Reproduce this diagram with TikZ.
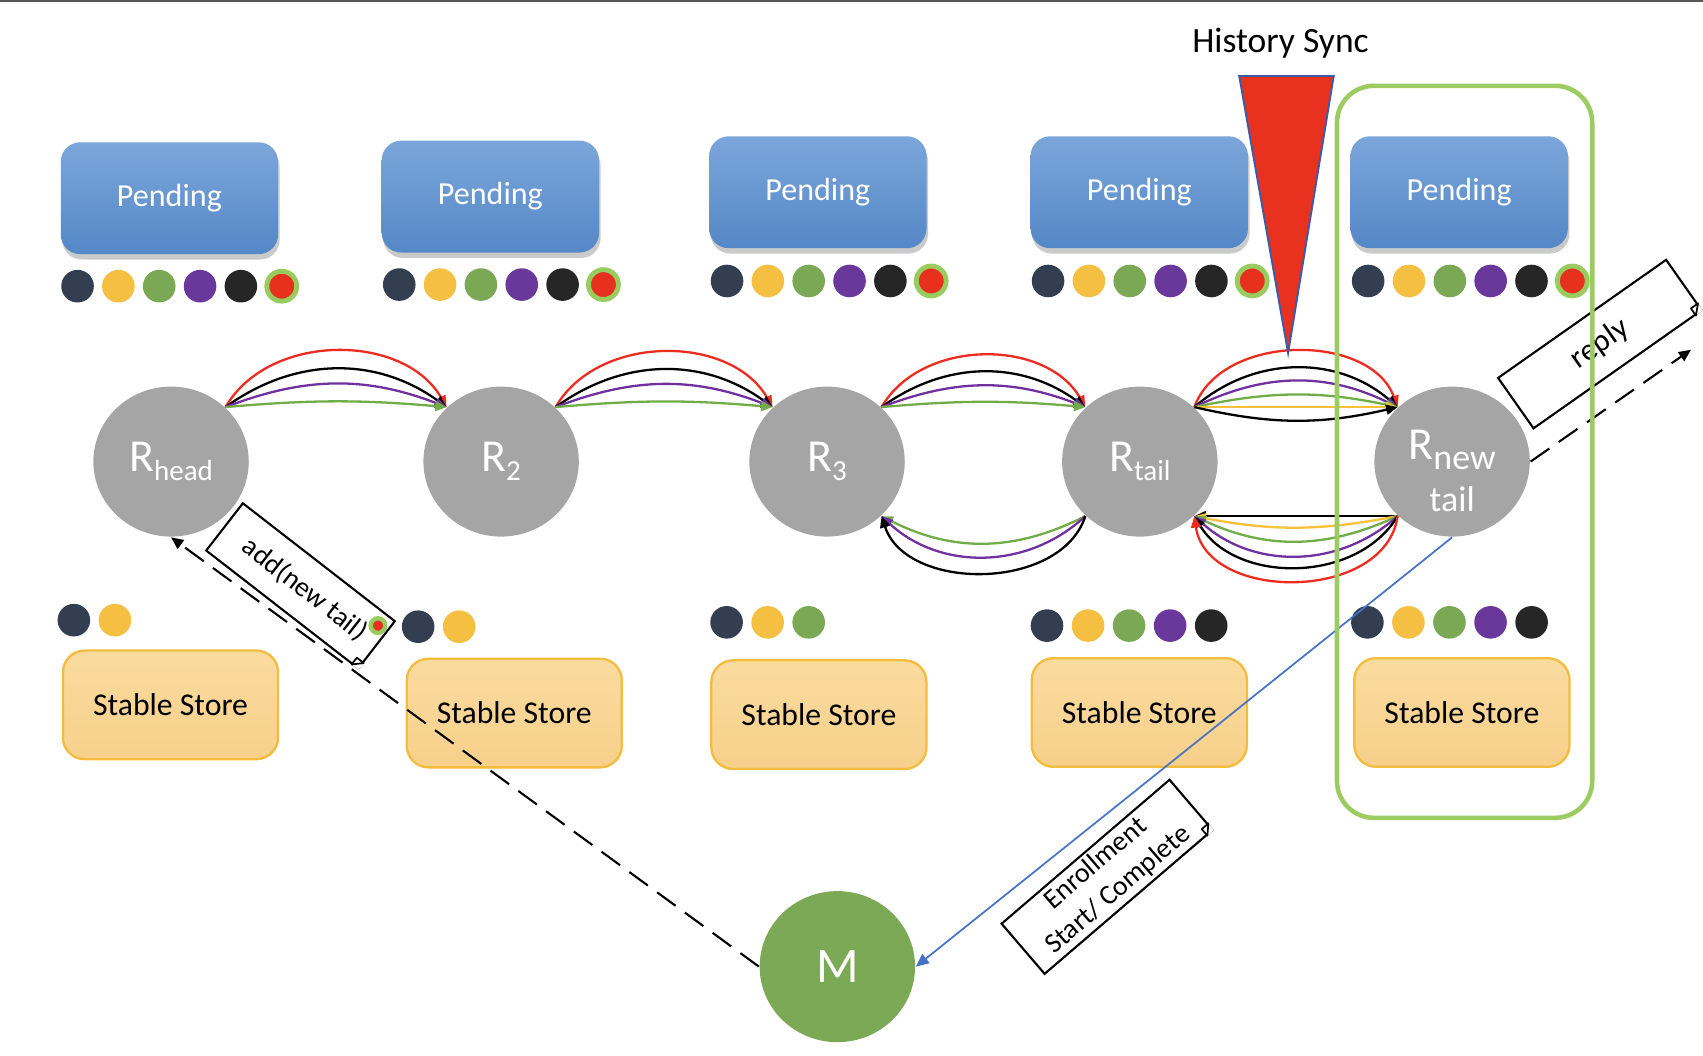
\documentclass[tikz,border=0pt]{standalone}
\usepackage{fontspec}
\setmainfont{Carlito}
\usepackage{tikz}
\usetikzlibrary{arrows.meta,positioning,shapes.geometric,shadows,calc}

\definecolor{pendtop}{HTML}{7BA6DA}
\definecolor{pendbot}{HTML}{5588C7}
\definecolor{storetop}{HTML}{FADB9F}
\definecolor{storebot}{HTML}{F7D08A}
\definecolor{storeline}{HTML}{F3BC3E}
\definecolor{rgray}{HTML}{A5A5A5}
\definecolor{mgreen}{HTML}{7CA955}
\definecolor{dkslate}{HTML}{333F50}
\definecolor{dyellow}{HTML}{F5BF42}
\definecolor{dgreen}{HTML}{7BA854}
\definecolor{dpurple}{HTML}{6A389B}
\definecolor{dblack}{HTML}{262626}
\definecolor{dred}{HTML}{E8301F}
\definecolor{ringgreen}{HTML}{98CC5E}
\definecolor{framegreen}{HTML}{9CCB62}
\definecolor{syncred}{HTML}{E8321F}
\definecolor{syncblue}{HTML}{3D5BA6}
\definecolor{enrollblue}{HTML}{4472C4}
\definecolor{ared}{HTML}{EE2B1F}
\definecolor{apurple}{HTML}{7030A0}
\definecolor{agreen}{HTML}{70AD47}
\definecolor{ayellow}{HTML}{F9C03A}

\newcommand{\Rsub}[1]{\raisebox{-2.4pt}{\fontsize{7.6}{9}\selectfont #1}}
\newcommand{\Rbig}[1]{\raisebox{-2.6pt}{\fontsize{9.4}{10}\selectfont #1}}
\newcommand{\notefold}[1]{%
  \coordinate (#1fa) at ($(#1.south east)!0.08cm!(#1.north east)$);
  \coordinate (#1fb) at ($(#1.south east)!0.08cm!(#1.south west)$);
  \fill[white] (#1fa) -- (#1.south east) -- (#1fb) -- cycle;
  \draw[line width=0.45pt,fill=white,line join=round] (#1fa) -- ($(#1fa)+(#1fb)-(#1.south east)$) -- (#1fb) -- cycle;}

\begin{document}
\begin{tikzpicture}[x=0.01cm,y=0.01cm,
  pending/.style={rounded corners=0.18cm,minimum width=2cm,minimum height=1.03cm,
    top color=pendtop,bottom color=pendbot,text=white,font=\fontsize{8.4}{9}\selectfont,
    drop shadow={shadow xshift=0.4pt,shadow yshift=-1.4pt,opacity=0.35,fill=black!60}},
  store/.style={rounded corners=0.2cm,draw=storeline,line width=0.6pt,
    top color=storetop,bottom color=storebot,minimum width=1.98cm,minimum height=1.0cm,
    font=\fontsize{8.3}{9}\selectfont},
  rnode/.style={ellipse,fill=rgray,minimum width=1.43cm,minimum height=1.38cm,inner sep=0,
    text=white,font=\fontsize{12}{14}\selectfont},
  mnode/.style={ellipse,fill=mgreen,minimum width=1.43cm,minimum height=1.39cm,inner sep=0,
    text=white,font=\fontsize{13}{15}\selectfont},
  dot/.style={circle,inner sep=0,minimum size=0.3cm,fill=#1},
  reddot/.style={circle,inner sep=0,minimum size=0.275cm,fill=dred,draw=ringgreen,line width=0.045cm},
  note/.style={draw,fill=white,line width=0.55pt,inner sep=0,align=center,
    font=\fontsize{7.3}{9}\selectfont},
  arc/.style={line width=0.6pt,-{Triangle[length=3pt,width=2.6pt]}},
  dashline/.style={line width=0.55pt,dash pattern=on 6pt off 3pt,
    -{Triangle[length=3.2pt,width=2.8pt]}},
  enroll/.style={enrollblue,line width=0.45pt,-{Triangle[length=3.4pt,width=3pt]}}]

  \useasboundingbox (0,0) rectangle (1568,-972);
  \draw[gray!70!black,line width=0.018cm] (0,-0.9) -- (1568,-0.9);

  % title
  \node[font=\fontsize{9.3}{11}\selectfont,anchor=base] (sync) at (1179,-48) {History Sync};

  % pending queues
  \node[pending] (P1) at (156,-182.5) {Pending};
  \node[pending] (P2) at (451.5,-181) {Pending};
  \node[pending] (P3) at (753,-177) {Pending};
  \node[pending] (P4) at (1049,-177) {Pending};
  \node[pending] (P5) at (1343.5,-177) {Pending};

  % pending updates
  \foreach \row/\x/\y in {1/71.4/263.5,2/367.6/262,3/669.4/258.7,4/965/258.7,5/1259.7/258.7} {
    \foreach \col [count=\i] in {dkslate,dyellow,dgreen,dpurple,dblack}
      \node[dot=\col] (t\row\i) at (\x+37.6*\i-37.6,-\y) {};
    \node[reddot] (t\row6) at (\x+5*37.6,-\y) {};
  }

  % stable stores
  \node[store] (S1) at (157,-649) {Stable Store};
  \node[store] (S2) at (473.5,-656.5) {Stable Store};
  \node[store] (S3) at (754,-658) {Stable Store};
  \node[store] (S4) at (1049,-656) {Stable Store};
  \node[store] (S5) at (1346,-656) {Stable Store};

  % stored updates
  \foreach \row/\n/\x/\y in {1/2/68/571,2/2/385/577,3/3/669/573,4/5/964/576,5/5/1259/573} {
    \foreach \col [count=\i] in {dkslate,dyellow,dgreen,dpurple,dblack} {
      \ifnum\i>\n\relax\else
        \node[dot=\col] (b\row\i) at (\x+37.8*\i-37.8,-\y) {};
      \fi
    }
  }

  % chain replicas
  \node[rnode] (Rhead) at (157.5,-425) {R\Rsub{head}};
  \node[rnode] (R2) at (461.4,-425) {R\Rsub{2}};
  \node[rnode] (R3) at (761.5,-425) {R\Rsub{3}};
  \node[rnode] (Rtail) at (1049.5,-425) {R\Rsub{tail}};
  \node[rnode,align=center] (Rnew) at (1337,-425) {\rule{0pt}{12.6pt}R\Rbig{new}\\[-0.5pt]{\fontsize{9.4}{10}\selectfont tail}};
  \node[mnode] (M) at (771,-890) {M};

  % updates down the chain
  \foreach \a/\b in {Rhead/R2,R2/R3,R3/Rtail}
    \foreach \col/\ang in {ared/60,black/36,apurple/21,agreen/5}
      \draw[arc,\col] (\a.45) to[bend left=\ang] (\b.135);
  \foreach \col/\ang in {ared/70,black/41,apurple/26,agreen/12,ayellow/0,black/-13}
    \draw[arc,\col] (Rtail.45) to[bend left=\ang] (Rnew.135);

  % acks back up
  \foreach \col/\ang/\lo in {black/0/1,ayellow/11/1,agreen/25/1,apurple/42/1,black/59/1,ared/82/1.1}
    \draw[arc,\col] (Rnew.225) to[bend left=\ang,looseness=\lo] (Rtail.315);
  \foreach \col/\ang in {agreen/27,apurple/43,black/72}
    \draw[arc,\col] (Rtail.225) to[bend left=\ang] (R3.315);

  % master messages
  \draw[enroll] (Rnew.south) -- (M.east);
  \draw[dashline] (M.west) -- (Rhead.south);
  \coordinate (replyend) at (1557,-322);
  \draw[dashline] (Rnew.east) -- (replyend);

  % message notes
  \node[note,rotate=-37.8,minimum width=1.77cm,minimum height=0.55cm] (addnote) at (276.7,-539.4) {\hspace*{0.1cm}add(new tail)};
  \notefold{addnote}
  \node[reddot,minimum size=0.135cm,line width=0.04cm] (adddot) at (348,-576) {};
  \node[note,rotate=35.1,minimum width=1.89cm,minimum height=0.567cm,font=\fontsize{8.2}{9}\selectfont] (replynote) at (1473,-316.8) {reply};
  \notefold{replynote}
  \node[note,rotate=40.6,minimum width=2.035cm,minimum height=0.608cm] (enrollnote) at (1019.3,-807.3) {Enrollment\\Start/ Complete};
  \notefold{enrollnote}

  % history sync and new tail
  \draw[syncblue,line width=0.5pt,fill=syncred] (1141,-70) -- (1228,-70) -- (1186,-325) -- cycle;
  \draw[framegreen,line width=0.042cm,rounded corners=0.34cm] (1231,-79) rectangle (1466,-753);
\end{tikzpicture}
\end{document}
